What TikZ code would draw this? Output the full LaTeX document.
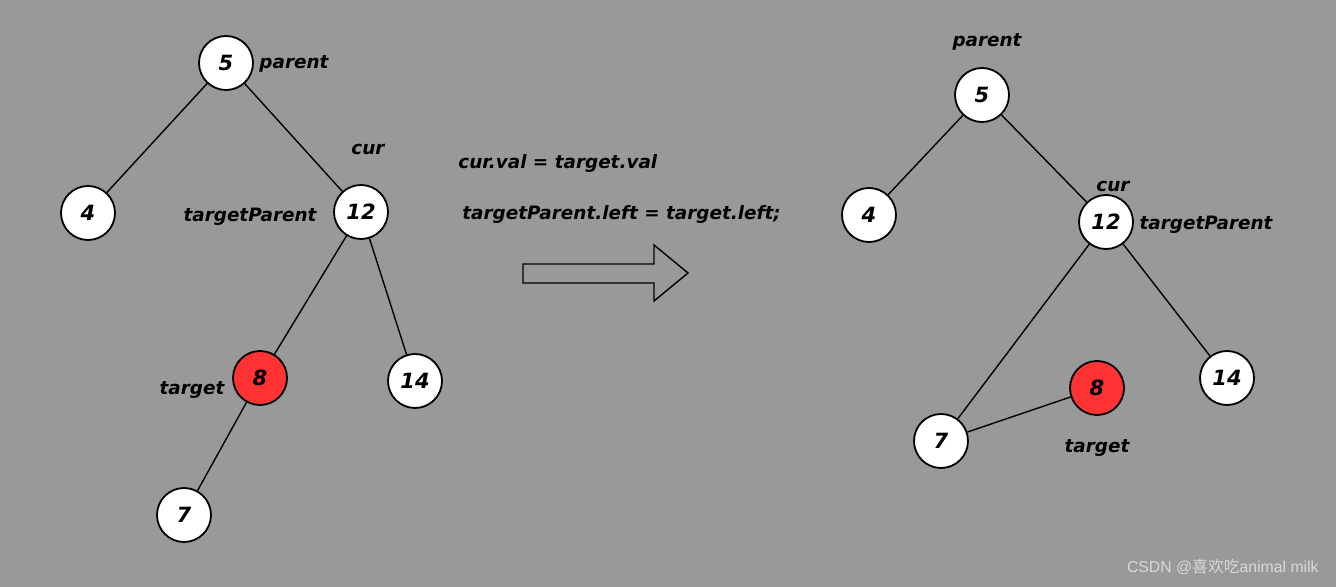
\documentclass[tikz,border=0pt]{standalone}
\usepackage{fontspec}
\setmainfont{DejaVu Sans}
\newfontfamily\cjkfont{Noto Sans CJK SC}
\newfontfamily\markfont{Liberation Sans}
\usepackage{xcolor}
\usetikzlibrary{positioning}
\definecolor{bggray}{HTML}{999999}
\definecolor{delred}{HTML}{FF3333}

\begin{document}
\begin{tikzpicture}[x=0.5pt, y=-0.5pt,
    treenode/.style={circle, draw=black, line width=0.9pt, fill=white, minimum size=27pt, inner sep=0pt, font=\bfseries\itshape\fontsize{10.5}{12}\selectfont},
    gone/.style={treenode, fill=delred},
    tag/.style={font=\bfseries\itshape\fontsize{9.2}{11}\selectfont, inner sep=1pt, yshift=-1pt},
    edge/.style={draw=black, line width=0.7pt}
]
\useasboundingbox[fill=bggray] (0,0) rectangle (1336,587);

% tree before removal
\node[treenode] (a5) at (226,63) {5};
\node[treenode] (a4) at (88,213) {4};
\node[treenode] (a12) at (361,212) {12};
\node[gone] (a8) at (260,378) {8};
\node[treenode] (a14) at (415,381) {14};
\node[treenode] (a7) at (184,515) {7};
\node[tag] (aparent) at (294,62) {parent};
\node[tag] (acur) at (368,147) {cur};
\node[tag] (atp) at (250,215) {targetParent};
\node[tag] (atarget) at (192,388) {target};

\draw[edge] (a5) -- (a4);
\draw[edge] (a5) -- (a12);
\draw[edge] (a12) -- (a8);
\draw[edge] (a12) -- (a14);
\draw[edge] (a8) -- (a7);

% code and arrow
\node[tag, anchor=west] (line1) at (456,161) {cur.val = target.val};
\node[tag, anchor=west] (line2) at (460,212) {targetParent.left = target.left;};
\draw[line width=0.7pt, fill=bggray] (523,264) -- (654,264) -- (654,245) -- (688,273)
    -- (654,301) -- (654,283) -- (523,283) -- cycle;

% tree after removal
\node[treenode] (b5) at (982,95) {5};
\node[treenode] (b4) at (869,215) {4};
\node[treenode] (b12) at (1106,222) {12};
\node[treenode] (b14) at (1227,378) {14};
\node[gone] (b8) at (1097,388) {8};
\node[treenode] (b7) at (941,441) {7};
\node[tag] (bparent) at (987,40) {parent};
\node[tag] (bcur) at (1113,184) {cur};
\node[tag] (btp) at (1206,223) {targetParent};
\node[tag] (btarget) at (1097,446) {target};

\draw[edge] (b5) -- (b4);
\draw[edge] (b5) -- (b12);
\draw[edge] (b12) -- (b7);
\draw[edge] (b12) -- (b14);
\draw[edge] (b7) -- (b8);

% watermark
\node[anchor=east, text=white!85!black, font=\markfont\fontsize{7.9}{10}\selectfont, inner sep=0pt] (mark) at (1319,567) {CSDN @{\cjkfont 喜欢吃}animal milk};
\end{tikzpicture}
\end{document}
